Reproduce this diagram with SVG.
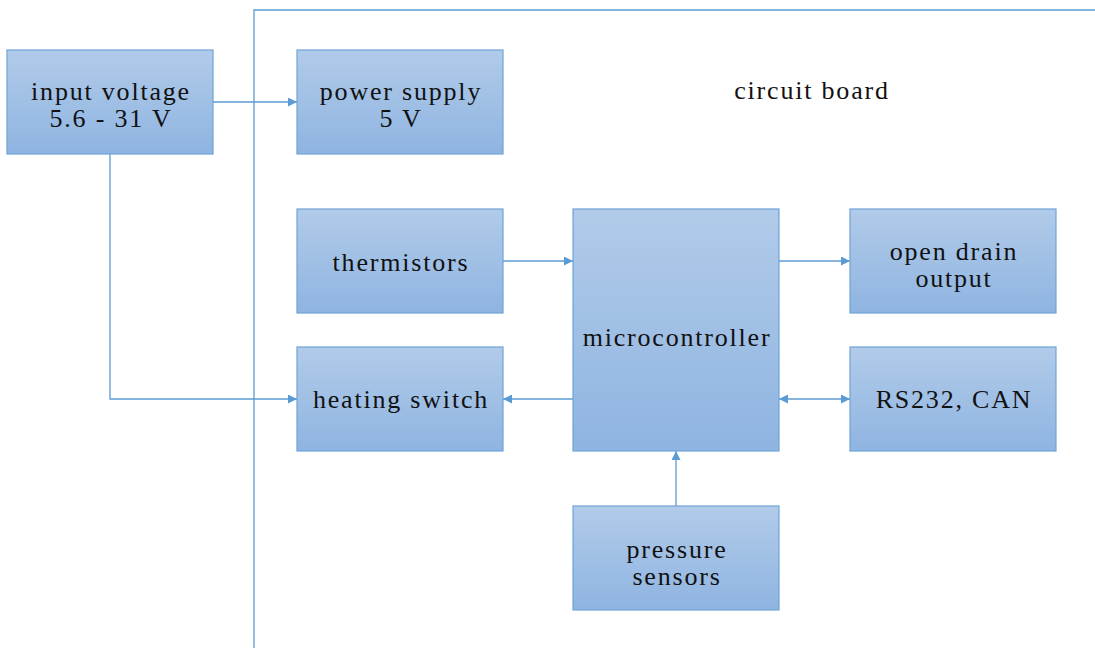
<svg xmlns="http://www.w3.org/2000/svg" width="1095" height="648" viewBox="0 0 1095 648" font-family="Liberation Serif, DejaVu Serif, Times New Roman, serif">
<defs>
<linearGradient id="g" x1="0" y1="0" x2="0" y2="1">
<stop offset="0" stop-color="#b1cbe9"/>
<stop offset="1" stop-color="#8fb4e1"/>
</linearGradient>
<marker id="a" viewBox="0 0 10 10" refX="10" refY="5" markerWidth="9" markerHeight="9" markerUnits="userSpaceOnUse" orient="auto-start-reverse">
<path d="M0,0 L10,5 L0,10 z" fill="#5b9bd5"/>
</marker>
<style>
.n{fill:url(#g);stroke:#6fa3d8;stroke-width:1.2}
.t{font-size:26px;fill:#111;text-anchor:middle;letter-spacing:1.8px}
.c{fill:none;stroke:#5b9bd5;stroke-width:1.3}
</style>
</defs>
<rect width="1095" height="648" fill="#fff"/>
<g id="board">
<path class="c" d="M254,648 V10 H1095"/>
<text class="t" x="812" y="99">circuit board</text>
</g>
<g id="connectors">
<path class="c" d="M213,102 H297" marker-end="url(#a)"/>
<path class="c" d="M110,154 V399 H297" marker-end="url(#a)"/>
<path class="c" d="M503,261 H573" marker-end="url(#a)"/>
<path class="c" d="M573,399 H503" marker-end="url(#a)"/>
<path class="c" d="M779,261 H850" marker-end="url(#a)"/>
<path class="c" d="M779,399 H850" marker-start="url(#a)" marker-end="url(#a)"/>
<path class="c" d="M676,506 V451" marker-end="url(#a)"/>
</g>
<g id="input">
<rect class="n" x="7" y="50" width="206" height="104"/>
<text class="t" x="111" y="100">input voltage</text>
<text class="t" x="111" y="127">5.6 - 31 V</text>
</g>
<g id="power">
<rect class="n" x="297" y="50" width="206" height="104"/>
<text class="t" x="401" y="100">power supply</text>
<text class="t" x="401" y="127">5 V</text>
</g>
<g id="thermistors">
<rect class="n" x="297" y="209" width="206" height="104"/>
<text class="t" x="401" y="271">thermistors</text>
</g>
<g id="heating">
<rect class="n" x="297" y="347" width="206" height="104"/>
<text class="t" x="401" y="408">heating switch</text>
</g>
<g id="micro">
<rect class="n" x="573" y="209" width="206" height="242"/>
<text class="t" x="677" y="346">microcontroller</text>
</g>
<g id="opendrain">
<rect class="n" x="850" y="209" width="206" height="104"/>
<text class="t" x="954" y="260">open drain</text>
<text class="t" x="954" y="287">output</text>
</g>
<g id="rs232">
<rect class="n" x="850" y="347" width="206" height="104"/>
<text class="t" x="954" y="408">RS232, CAN</text>
</g>
<g id="pressure">
<rect class="n" x="573" y="506" width="206" height="104"/>
<text class="t" x="677" y="558">pressure</text>
<text class="t" x="677" y="585">sensors</text>
</g>
</svg>
